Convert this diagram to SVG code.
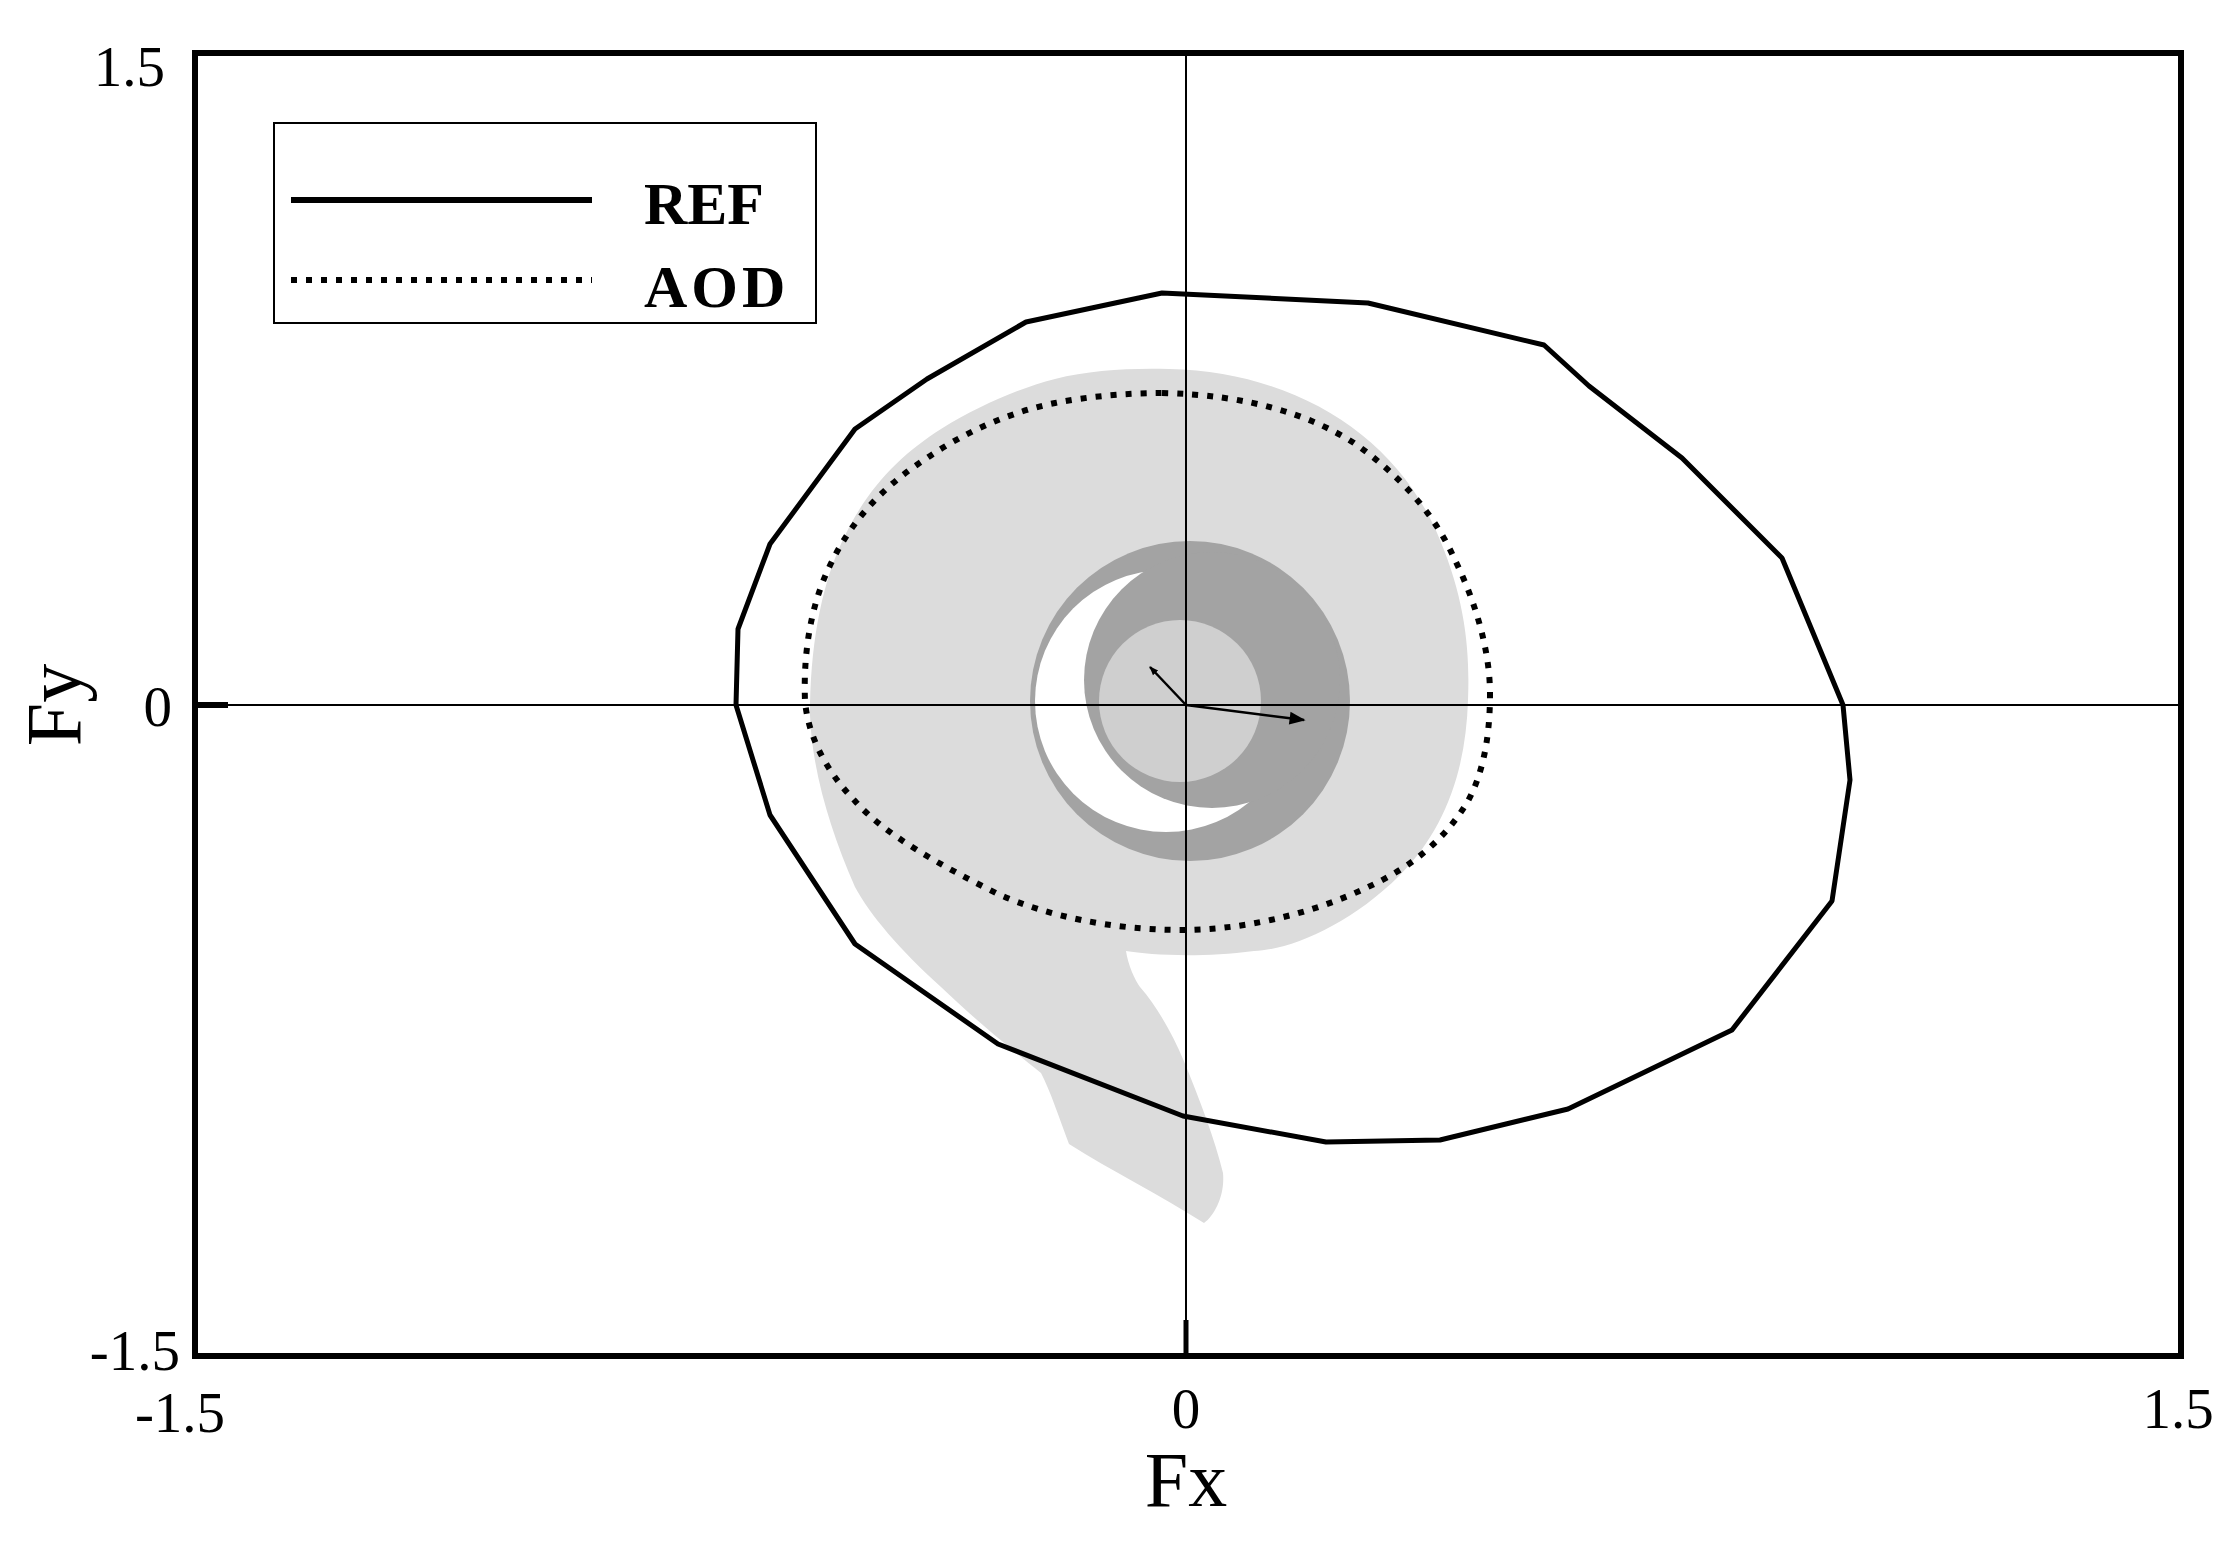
<svg xmlns="http://www.w3.org/2000/svg" width="2235" height="1545" viewBox="0 0 2235 1545">
<style>
text{font-family:"Liberation Serif",serif;fill:#000}
.t{font-size:57px}
.b{font-size:60px;font-weight:bold}
</style>
<defs>
<marker id="ah" viewBox="0 0 10 10" refX="9" refY="5" markerWidth="9" markerHeight="9" orient="auto" markerUnits="userSpaceOnUse"><path d="M0,1 L10,5 L0,9 z" fill="#000"/></marker>
<marker id="ah2" viewBox="0 0 10 10" refX="9" refY="5" markerWidth="22" markerHeight="16" orient="auto" markerUnits="userSpaceOnUse"><path d="M0,1 L10,5 L0,9 z" fill="#000"/></marker>
</defs>
<rect width="2235" height="1545" fill="#fff"/>
<g id="volute">
<path d="M1169,369 C1300,372 1400,440 1440,540 C1465,600 1470,650 1468,700 C1466,770 1445,830 1400,875 C1350,925 1290,950 1254,951 C1200,958 1150,955 1126,951 C1128,965 1135,980 1140,987 C1160,1010 1175,1040 1183,1059 C1200,1100 1215,1140 1223,1173 C1225,1195 1215,1215 1204,1223 C1160,1195 1110,1170 1069,1144 C1060,1120 1050,1090 1041,1073 C1000,1040 970,1015 941,987 C900,950 870,915 855,887 C830,830 812,770 810,715 C810,650 820,590 841,544 C865,490 900,455 941,429 C980,405 1020,388 1055,379 C1090,370 1130,368 1169,369 Z" fill="#dcdcdc"/>
<circle cx="1190" cy="701" r="160" fill="#a3a3a3"/>
<circle cx="1166" cy="701" r="131" fill="#fff"/>
<circle cx="1212" cy="680" r="128" fill="#a3a3a3"/>
<circle cx="1180" cy="701" r="81" fill="#cfcfcf"/>
</g>
<g id="axes" stroke="#000" fill="none">
<line x1="1186" y1="53" x2="1186" y2="1356" stroke-width="2"/>
<line x1="195" y1="705" x2="2181" y2="705" stroke-width="2"/>
<line x1="195" y1="705" x2="228" y2="705" stroke-width="6"/>
<line x1="1186" y1="1320" x2="1186" y2="1356" stroke-width="5"/>
<rect x="195" y="53" width="1986" height="1303" stroke-width="6"/>
</g>
<g id="ref" fill="none" stroke="#000" stroke-width="5" stroke-linejoin="round">
<polygon points="1162,293 1368,303 1544,345 1589,386 1682,458 1782,558 1843,705 1850,780 1832,901 1732,1030 1568,1109 1440,1140 1326,1142 1183,1116 998,1044 855,944 770,815 736,705 738,629 770,544 855,429 927,379 1026,322"/>
</g>
<g id="aod" fill="none" stroke="#000" stroke-width="6" stroke-dasharray="6,9">
<path d="M1162,393 C1250,395 1310,415 1354,443 C1400,475 1435,515 1454,558 C1475,600 1490,650 1490,694 C1490,740 1482,775 1468,801 C1445,840 1410,868 1368,887 C1310,915 1240,930 1183,930 C1110,930 1045,915 998,894 C940,865 885,835 855,801 C825,770 808,735 805,701 C803,650 812,605 827,572 C850,520 885,485 927,458 C965,432 1010,412 1055,403 C1090,396 1130,393 1162,393 Z"/>
</g>
<g id="vectors" stroke="#000" stroke-width="2.5" fill="none">
<line x1="1186" y1="705" x2="1150" y2="667" marker-end="url(#ah)"/>
<line x1="1186" y1="705" x2="1304" y2="720" marker-end="url(#ah2)"/>
</g>
<g id="legend">
<rect x="274" y="123" width="542" height="200" fill="#fff" stroke="#000" stroke-width="2"/>
<line x1="291" y1="200" x2="592" y2="200" stroke="#000" stroke-width="6"/>
<line x1="291" y1="280" x2="592" y2="280" stroke="#000" stroke-width="6" stroke-dasharray="6,9"/>
<text x="644" y="224" class="b">REF</text>
<text x="644" y="307" class="b" letter-spacing="4">AOD</text>
</g>
<g id="labels">
<text x="165" y="86" text-anchor="end" class="t">1.5</text>
<text x="172" y="726" text-anchor="end" class="t">0</text>
<text x="180" y="1370" text-anchor="end" class="t">-1.5</text>
<text x="180" y="1432" text-anchor="middle" class="t">-1.5</text>
<text x="1186" y="1428" text-anchor="middle" class="t">0</text>
<text x="2178" y="1428" text-anchor="middle" class="t">1.5</text>
<text x="1186" y="1506" text-anchor="middle" font-size="78">Fx</text>
<text transform="translate(80,705) rotate(-90)" text-anchor="middle" font-size="78">Fy</text>
</g>
</svg>
